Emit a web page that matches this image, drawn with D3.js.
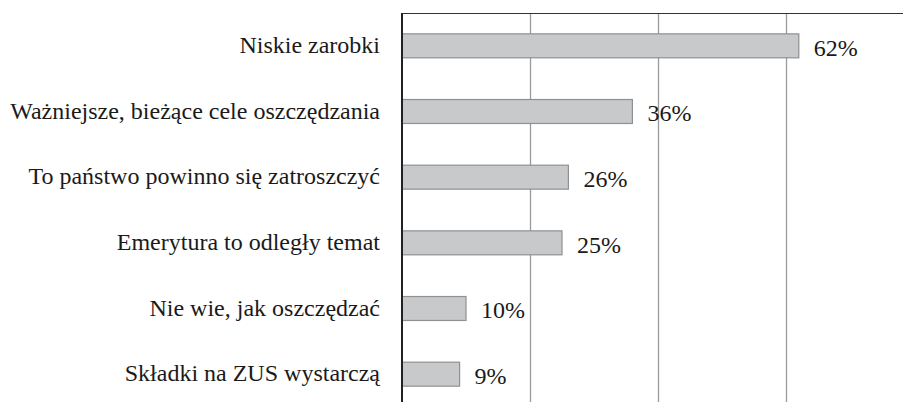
<!DOCTYPE html>
<html>
<head>
<meta charset="utf-8">
<script src="https://cdn.jsdelivr.net/npm/d3@7"></script>
<style>
  html, body { margin: 0; padding: 0; background: #fff; }
  svg { display: block; }
</style>
</head>
<body>
<div id="chart"></div>
<script>
// reasons for not saving for retirement
const categories = [
  "Niskie zarobki",
  "Ważniejsze, bieżące cele oszczędzania",
  "To państwo powinno się zatroszczyć",
  "Emerytura to odległy temat",
  "Nie wie, jak oszczędzać",
  "Składki na ZUS wystarczą"
];
const values = [62, 36, 26, 25, 10, 9];
const gridTicks = [20, 40, 60, 80];

const W = 903, H = 402;
const FONT = "Liberation Serif";
// plot runs past the right and bottom edge of the picture
const plot = { left: 402, top: 13, right: 914, bottom: 407 };

const svg = d3.select("#chart").append("svg")
  .attr("width", W)
  .attr("height", H);

const x = d3.scaleLinear().domain([0, 80]).range([plot.left, plot.right]);
const y = d3.scaleBand().domain(categories).range([plot.top, plot.bottom]).paddingInner(0.635).paddingOuter(0.3175);

// gridlines
svg.append("g")
  .selectAll("line")
  .data(gridTicks)
  .join("line")
    .attr("x1", d => Math.round(x(d)) + 0.5)
    .attr("x2", d => Math.round(x(d)) + 0.5)
    .attr("y1", plot.top)
    .attr("y2", plot.bottom)
    .attr("stroke", "#9a9a9a")
    .attr("stroke-width", 1.3);

// top border
svg.append("line")
  .attr("x1", plot.left).attr("x2", W)
  .attr("y1", plot.top + 0.5).attr("y2", plot.top + 0.5)
  .attr("stroke", "#333").attr("stroke-width", 1.2);

// bars
svg.append("g")
  .selectAll("rect")
  .data(values)
  .join("rect")
    .attr("x", x(0))
    .attr("y", (d, i) => y(categories[i]))
    .attr("width", d => x(d) - x(0))
    .attr("height", y.bandwidth())
    .attr("fill", "#c8c9cb")
    .attr("stroke", "#8f9092")
    .attr("stroke-width", 1.2);

// value labels
svg.append("g")
  .selectAll("text")
  .data(values)
  .join("text")
    .attr("x", d => x(d) + 15)
    .attr("y", (d, i) => y(categories[i]) + y.bandwidth() / 2 + 9.7)
    .attr("font-family", FONT)
    .attr("font-size", 24)
    .attr("fill", "#1a1a1a")
    .text(d => d + "%");

// category labels
svg.append("g")
  .selectAll("text")
  .data(categories)
  .join("text")
    .attr("x", plot.left - 22)
    .attr("y", d => y(d) + y.bandwidth() / 2 + 7.3)
    .attr("text-anchor", "end")
    .attr("font-family", FONT)
    .attr("font-size", 24)
    .attr("fill", "#1a1a1a")
    .text(d => d);

// value axis line (drawn last so it sits on top of the bars)
svg.append("line")
  .attr("x1", plot.left).attr("x2", plot.left)
  .attr("y1", plot.top).attr("y2", plot.bottom)
  .attr("stroke", "#222").attr("stroke-width", 2);
</script>
</body>
</html>
